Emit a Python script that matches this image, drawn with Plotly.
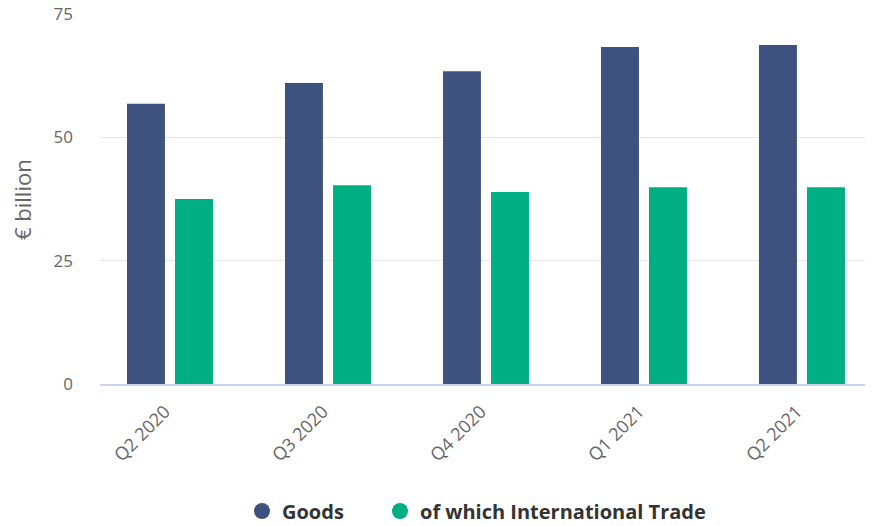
import plotly.graph_objects as go

categories = ["Q2 2020", "Q3 2020", "Q4 2020", "Q1 2021", "Q2 2021"]
goods = [56.8, 61.0, 63.4, 68.3, 68.7]
intl_trade = [37.5, 40.3, 38.9, 39.9, 39.9]
series_names = ["Goods", "of which International Trade"]
colors = ["#3e527f", "#00ae84"]
y_ticks = [0, 25, 50, 75]

legend_names = ["legend", "legend2"]
fig = go.Figure()
for name, vals, col, lg in zip(series_names, [goods, intl_trade], colors, legend_names):
    fig.add_trace(go.Bar(x=categories, y=vals, name=name, marker_color=col,
                         marker_line_width=0, showlegend=False))
    fig.add_trace(go.Scatter(x=[None], y=[None], mode="markers", name=name, legend=lg,
                             marker=dict(symbol="circle", size=20, color=col)))

legend_font = dict(size=20, color="#333333", family="Open Sans, DejaVu Sans, sans-serif",
                   weight="bold")
W, H = 877, 526
L, R, T, B = 100, 12, 13, 142
plot_w = W - L - R
plot_h = H - T - B
leg_y = (384 - 511) / plot_h

fig.update_layout(
    width=W, height=H,
    paper_bgcolor="white", plot_bgcolor="white",
    margin=dict(l=L, r=R, t=T, b=B, autoexpand=False),
    barmode="group", bargap=0.392, bargroupgap=0.21,
    font=dict(family="Open Sans, DejaVu Sans, sans-serif", color="#666666"),
    xaxis=dict(type="category", range=[-0.443, 4.399], tickangle=-45,
               showgrid=False, showline=True, linecolor="#ccd6eb", linewidth=2,
               ticks="", automargin=False, ticklabelstandoff=8, ticklabelshift=-5,
               tickfont=dict(size=18, color="#666666")),
    yaxis=dict(range=[0, 75.2], tickvals=y_ticks, showgrid=True, gridcolor="#e6e6e6",
               zeroline=False, showline=False, ticks="", automargin=False,
               ticklabeloverflow="allow",
               tickfont=dict(size=17, color="#666666"), ticklabelstandoff=26),
    legend=dict(orientation="h", x=(242 - L) / plot_w, xanchor="left", y=leg_y,
                yanchor="middle", font=legend_font, itemwidth=30),
    legend2=dict(orientation="h", x=(380 - L) / plot_w, xanchor="left", y=leg_y,
                 yanchor="middle", font=legend_font, itemwidth=30),
    annotations=[dict(text="€ billion", xref="paper", yref="paper",
                      x=(22 - L) / plot_w, y=(384 - 200) / plot_h, xanchor="center",
                      yanchor="middle", textangle=-90, showarrow=False,
                      font=dict(size=22, color="#666666"))],
)

fig.write_html("out.html", config={"displayModeBar": False},
               post_script="document.body.style.margin='0';")
